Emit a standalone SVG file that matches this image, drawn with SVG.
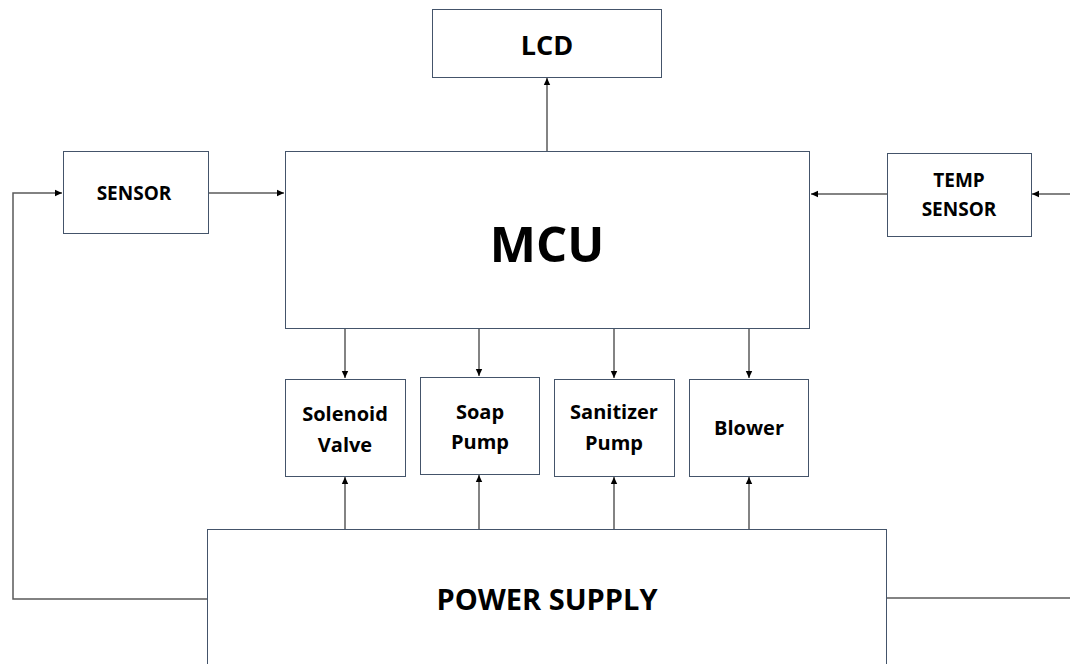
<svg xmlns="http://www.w3.org/2000/svg" width="1070" height="664" viewBox="0 0 1070 664">
<style>
.box{fill:#ffffff;stroke:#44546a;stroke-width:1}
.t{font-family:"Open Sans","Liberation Sans",sans-serif;font-weight:700;fill:#000;text-anchor:middle}
.c{fill:none;stroke:#5a5a5a;stroke-width:1.5}
</style>
<defs>
<marker id="ah" markerWidth="8" markerHeight="8" refX="7" refY="4" orient="auto" markerUnits="userSpaceOnUse">
<path d="M0,0.8 L7,4 L0,7.2 Z" fill="#000"/>
</marker>
</defs>
<rect width="1070" height="664" fill="#fff"/>
<g id="connectors">
<line class="c" x1="547" y1="151" x2="547" y2="78" marker-end="url(#ah)"/>
<line class="c" x1="208" y1="193" x2="284" y2="193" marker-end="url(#ah)"/>
<line class="c" x1="887" y1="194" x2="811" y2="194" marker-end="url(#ah)"/>
<line class="c" x1="1070" y1="194" x2="1032" y2="194" marker-end="url(#ah)"/>
<polyline class="c" points="207,599 13,599 13,193 62,193" marker-end="url(#ah)"/>
<line class="c" x1="886" y1="598" x2="1070" y2="598"/>
<line class="c" x1="345" y1="329" x2="345" y2="378" marker-end="url(#ah)"/>
<line class="c" x1="479" y1="329" x2="479" y2="376" marker-end="url(#ah)"/>
<line class="c" x1="614" y1="329" x2="614" y2="378" marker-end="url(#ah)"/>
<line class="c" x1="749" y1="329" x2="749" y2="378" marker-end="url(#ah)"/>
<line class="c" x1="345" y1="529" x2="345" y2="477" marker-end="url(#ah)"/>
<line class="c" x1="479" y1="529" x2="479" y2="475" marker-end="url(#ah)"/>
<line class="c" x1="614" y1="529" x2="614" y2="477" marker-end="url(#ah)"/>
<line class="c" x1="749" y1="529" x2="749" y2="477" marker-end="url(#ah)"/>
</g>
<g id="lcd"><rect class="box" x="432.5" y="9.5" width="229" height="68"/><text class="t" x="547" y="55" font-size="27">LCD</text></g>
<g id="sensor"><rect class="box" x="63.5" y="151.5" width="145" height="82"/><text class="t" x="134" y="200" font-size="19">SENSOR</text></g>
<g id="mcu"><rect class="box" x="285.5" y="151.5" width="524" height="177"/><text class="t" x="547" y="262" font-size="49">MCU</text></g>
<g id="temp-sensor"><rect class="box" x="887.5" y="153.5" width="144" height="83"/><text class="t" x="959" y="187" font-size="19">TEMP</text><text class="t" x="959" y="216" font-size="19">SENSOR</text></g>
<g id="solenoid-valve"><rect class="box" x="285.5" y="379.5" width="120" height="97"/><text class="t" x="345" y="421" font-size="20">Solenoid</text><text class="t" x="345" y="452" font-size="20">Valve</text></g>
<g id="soap-pump"><rect class="box" x="420.5" y="377.5" width="119" height="97"/><text class="t" x="480" y="419" font-size="20">Soap</text><text class="t" x="480" y="449" font-size="20">Pump</text></g>
<g id="sanitizer-pump"><rect class="box" x="554.5" y="379.5" width="120" height="97"/><text class="t" x="614" y="419" font-size="20">Sanitizer</text><text class="t" x="614" y="450" font-size="20">Pump</text></g>
<g id="blower"><rect class="box" x="689.5" y="379.5" width="119" height="97"/><text class="t" x="749" y="435" font-size="20">Blower</text></g>
<g id="power-supply"><rect class="box" x="207.5" y="529.5" width="679" height="150"/><text class="t" x="547" y="610" font-size="29">POWER SUPPLY</text></g>
</svg>
